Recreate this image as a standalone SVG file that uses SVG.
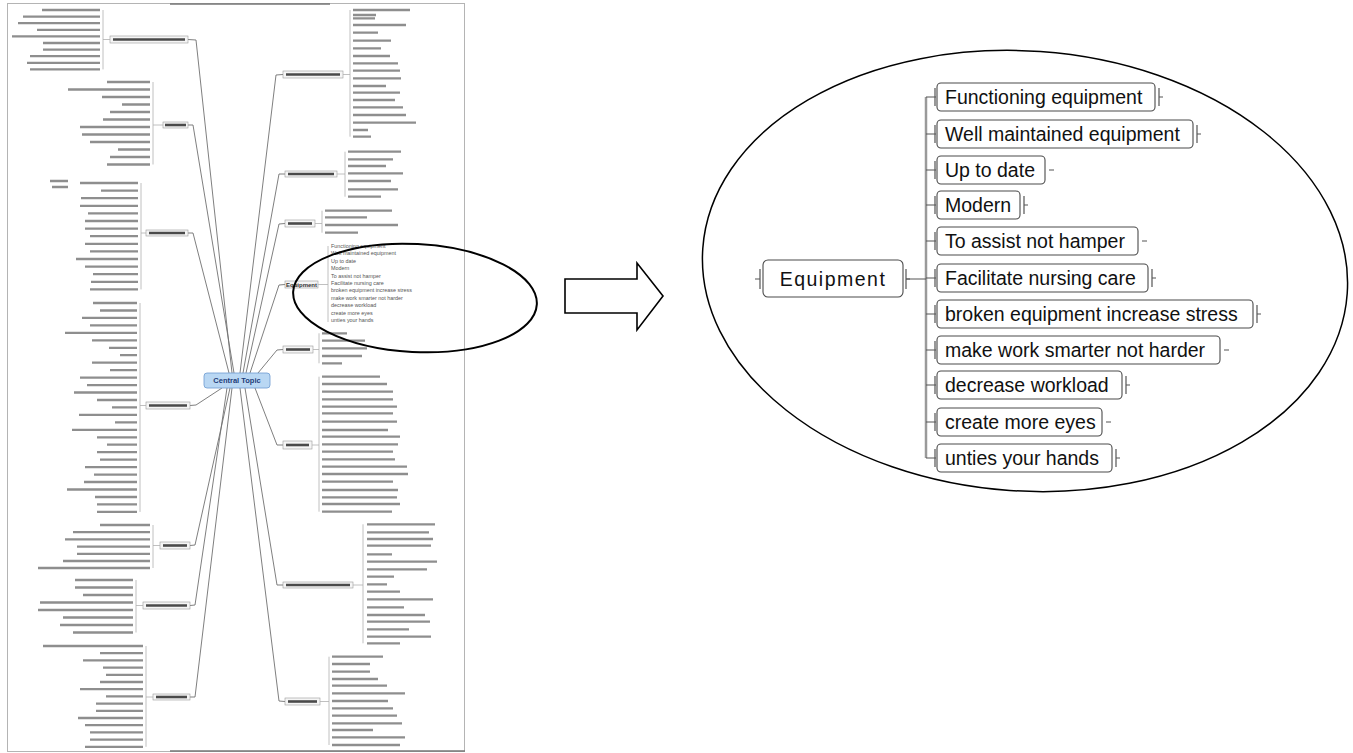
<svg xmlns="http://www.w3.org/2000/svg" width="1353" height="753" viewBox="0 0 1353 753">
<style>
.leaf{stroke:#8e8e8e;stroke-width:2.3;fill:none}
.brk{stroke:#b0b0b0;stroke-width:0.8;fill:none}
.con{stroke:#707070;stroke-width:0.9;fill:none}
.lbl{fill:#f5f5f5;stroke:#9a9a9a;stroke-width:0.6}
.lbar{stroke:#4a4a4a;stroke-width:2.6}
.tt{font-family:"Liberation Sans",Arial,sans-serif;font-size:5.4px;fill:#555}
.box{fill:#fff;stroke:#4a4a4a;stroke-width:1.1}
.t{font-family:"Liberation Sans",Arial,sans-serif;font-size:19.5px;fill:#111}
.mk{stroke:#555;stroke-width:1.2;fill:none}
.trunk{stroke:#9a9a9a;stroke-width:2.5;fill:none}
.ring{fill:none;stroke:#000}
</style>
<rect width="1353" height="753" fill="#fff"/>

<!-- thumbnail frame -->
<g id="thumbnail-frame">
<rect x="7.5" y="3.5" width="457" height="748" fill="none" stroke="#b4b4b4" stroke-width="1"/>
<path d="M170,4H330M170,751H465" stroke="#777" stroke-width="1.4"/>
</g>

<!-- thumbnail connectors -->
<g id="thumb-connectors" class="con">
<path d="M188,39.5L196,40L232,373"/>
<path d="M188,125L193,125L234,373"/>
<path d="M188,233L193,233L229,373"/>
<path d="M190,405.5L196,405L222,388"/>
<path d="M190,545.5L195,545L230,388"/>
<path d="M190,605.5L195,605L227,388"/>
<path d="M190,697L195,697L232,388"/>
<path d="M283,74.5L276,75L240,373"/>
<path d="M285,174L279,174L243,373"/>
<path d="M285,223.5L279,224L246,373"/>
<path d="M285,284.5L279,285L250,373"/>
<path d="M283,349.5L277,350L258,373"/>
<path d="M283,445L277,445L255,388"/>
<path d="M283,585L277,585L245,388"/>
<path d="M285,701.5L279,701L240,388"/>
</g>

<g id="thumb-central">
<rect x="204" y="373" width="66" height="15" rx="3" fill="#b9d7f3" stroke="#6c9bd0" stroke-width="0.8"/>
<text x="237" y="383" text-anchor="middle" font-family="Liberation Sans,Arial,sans-serif" font-size="7.5" font-weight="bold" fill="#1d3b78">Central Topic</text>
</g>

<g id="thumb-L1">
<rect class="lbl" x="110" y="36" width="78" height="7"/><path class="lbar" d="M113,39.5H185"/>
<path class="brk" d="M103,10V69.4M103,39.5H110"/>
<path class="leaf" d="M100,10h-58M100,16.6h-77M100,23.2h-82M100,29.8h-63M100,36.4h-88M100,43h-57M100,49.6h-57M100,56.2h-70M100,62.8h-73M100,69.4h-70"/>
</g>
<g id="thumb-L2">
<rect class="lbl" x="163" y="122" width="25" height="6"/><path class="lbar" d="M165,125H186"/>
<path class="brk" d="M153,82V164.5M153,125H163"/>
<path class="leaf" d="M150,82h-43M150,89.5h-82M150,97h-48M150,104.5h-28M150,112h-40M150,119.5h-47M150,127h-70M150,134.5h-68M150,142h-60M150,149.5h-32M150,157h-40M150,164.5h-43"/>
</g>
<g id="thumb-L3">
<rect class="lbl" x="146" y="230" width="42" height="6"/><path class="lbar" d="M149,233H185"/>
<path class="brk" d="M141,183V289.4M141,233H146"/>
<path class="leaf" d="M138,183h-58M138,190.6h-37M138,198.2h-57M138,205.8h-58M138,213.4h-50M138,221h-53M138,228.6h-53M138,236.2h-48M138,243.8h-53M138,251.4h-48M138,259h-62M138,266.6h-53M138,274.2h-45M138,281.8h-47M138,289.4h-48"/>
<path class="leaf" stroke-width="1.6" d="M50,181h18M52,187h16"/>
</g>
<g id="thumb-L4">
<rect class="lbl" x="146" y="402" width="44" height="7"/><path class="lbar" d="M149,405.5H187"/>
<path class="brk" d="M140,303V511.9M140,405.5H146"/>
<path class="leaf" d="M137,303h-44M137,310.5h-37M137,317.9h-55M137,325.4h-47M137,332.8h-72M137,340.3h-45M137,347.8h-28M137,355.2h-17M137,362.7h-45M137,370.1h-27M137,377.6h-57M137,385.1h-50M137,392.5h-63M137,400h-40M137,407.4h-25M137,414.9h-58M137,422.4h-22M137,429.8h-65M137,437.3h-40M137,444.7h-30M137,452.2h-40M137,459.7h-37M137,467.1h-52M137,474.6h-43M137,482h-53M137,489.5h-70M137,497h-42M137,504.4h-40M137,511.9h-40"/>
</g>
<g id="thumb-L5">
<rect class="lbl" x="160" y="542" width="30" height="7"/><path class="lbar" d="M163,545.5H187"/>
<path class="brk" d="M153,525V568M153,545.5H160"/>
<path class="leaf" d="M150,525h-50M150,532.2h-77M150,539.4h-85M150,546.6h-73M150,553.8h-73M150,561h-87M150,568h-112"/>
</g>
<g id="thumb-L6">
<rect class="lbl" x="143" y="602" width="47" height="7"/><path class="lbar" d="M146,605.5H187"/>
<path class="brk" d="M136,580V632.5M136,605.5H143"/>
<path class="leaf" d="M133,580h-58M133,587.5h-58M133,595h-50M133,602.5h-93M133,610h-95M133,617.5h-70M133,625h-73M133,632.5h-60"/>
</g>
<g id="thumb-L7">
<rect class="lbl" x="153" y="694" width="37" height="6"/><path class="lbar" d="M156,697H187"/>
<path class="brk" d="M146,646V746.8M146,697H153"/>
<path class="leaf" d="M143,646h-100M143,653.2h-43M143,660.4h-60M143,667.6h-40M143,674.8h-37M143,682h-43M143,689.2h-63M143,696.4h-37M143,703.6h-47M143,710.8h-47M143,718h-65M143,725.2h-58M143,732.4h-53M143,739.6h-53M143,746.8h-58"/>
</g>

<g id="thumb-R1">
<rect class="lbl" x="283" y="71" width="60" height="7"/><path class="lbar" d="M286,74.5H340"/>
<path class="brk" d="M350,10V136.7M343,74.5H350"/>
<path class="leaf" d="M353,10h57M353,15h23M353,18.3h22M353,25h53M353,32.7h25M353,40.7h38M353,48.3h28M353,56h37M353,63.3h45M353,70.7h47M353,78.3h48M353,86h33M353,92.7h47M353,100h42M353,107.3h50M353,115h53M353,122.7h63M353,130h15M353,136.7h18"/>
</g>
<g id="thumb-R2">
<rect class="lbl" x="285" y="171" width="52" height="6"/><path class="lbar" d="M288,174H334"/>
<path class="brk" d="M345,151.7V196.7M337,174H345"/>
<path class="leaf" d="M348,151.7h53M348,159.3h45M348,166h38M348,173.3h55M348,181h43M348,189.3h50M348,196.7h33"/>
</g>
<g id="thumb-R3">
<rect class="lbl" x="285" y="220" width="30" height="7"/><path class="lbar" d="M288,223.5H312"/>
<path class="brk" d="M322,210.7V232.7M315,223.5H322"/>
<path class="leaf" d="M325,210.7h67M325,217.3h42M325,225h73M325,232.7h33"/>
</g>
<g id="thumb-R4">
<rect class="lbl" x="285" y="281" width="33" height="7"/>
<text x="301.5" y="286.8" text-anchor="middle" font-family="Liberation Sans,Arial,sans-serif" font-size="6" font-weight="bold" fill="#333">Equipment</text>
<path class="brk" d="M328,246V322M318,284.5H328"/>
<g class="tt">
<text x="331" y="248">Functioning equipment</text>
<text x="331" y="255.4">Well maintained equipment</text>
<text x="331" y="262.8">Up to date</text>
<text x="331" y="270.2">Modern</text>
<text x="331" y="277.6">To assist not hamper</text>
<text x="331" y="285">Facilitate nursing care</text>
<text x="331" y="292.4">broken equipment increase stress</text>
<text x="331" y="299.8">make work smarter not harder</text>
<text x="331" y="307.2">decrease workload</text>
<text x="331" y="314.6">create more eyes</text>
<text x="331" y="322">unties your hands</text>
</g>
</g>
<g id="thumb-R5">
<rect class="lbl" x="283" y="346" width="30" height="7"/><path class="lbar" d="M286,349.5H310"/>
<path class="brk" d="M319,333.3V363.3M313,349.5H319"/>
<path class="leaf" d="M322,333.3h25M322,340.7h43M322,348.3h45M322,356h40M322,363.3h20"/>
</g>
<g id="thumb-R6">
<rect class="lbl" x="283" y="441" width="29" height="8"/><path class="lbar" d="M286,445H309"/>
<path class="brk" d="M319,376.7V511.7M312,445H319"/>
<path class="leaf" d="M322,376.7h58M322,384h65M322,391.7h71M322,399.3h71M322,406.7h75M322,413.3h71M322,421.7h75M322,430h66M322,436.7h78M322,444.3h76M322,451.7h71M322,459.3h73M322,466.7h85M322,474h86M322,481.7h71M322,490h76M322,497.3h75M322,504h78M322,511.7h70"/>
</g>
<g id="thumb-R7">
<rect class="lbl" x="283" y="582" width="70" height="6"/><path class="lbar" d="M286,585H350"/>
<path class="brk" d="M363,524.3V643.3M353,585H363"/>
<path class="leaf" d="M367,524.3h68M367,532.3h62M367,539h66M367,545.7h64M367,554.3h25M367,561.7h70M367,569.3h60M367,576.7h27M367,584.3h20M367,591.7h33M367,599.3h66M367,607.3h37M367,615h58M367,621.7h63M367,629.3h42M367,636.7h64M367,643.3h33"/>
</g>
<g id="thumb-R8">
<rect class="lbl" x="285" y="698" width="35" height="7"/><path class="lbar" d="M288,701.5H317"/>
<path class="brk" d="M329,656.7V745M320,701.5H329"/>
<path class="leaf" d="M332,656.7h51M332,664h38M332,671.7h38M332,679h46M332,685.7h55M332,693.3h73M332,701h56M332,708.3h61M332,715.7h65M332,723.3h70M332,730h41M332,737.3h73M332,745h68"/>
</g>

<g id="thumb-highlight">
<ellipse class="ring" cx="415" cy="298" rx="122" ry="54" transform="rotate(3 415 298)" stroke-width="2"/>
</g>

<g id="arrow">
<polygon points="565,279 637,279 637,263 663,296 637,330 637,313 565,313" fill="#fff" stroke="#000" stroke-width="1.6" stroke-linejoin="miter"/>
</g>

<g id="zoom-ellipse">
<ellipse class="ring" cx="1025" cy="271" rx="323" ry="220" transform="rotate(4 1025 271)" stroke-width="1.5"/>
</g>

<!-- main connectors -->
<g id="connectors">
<path class="trunk" d="M926,97V458"/>
<path class="mk" d="M906,279H926M926,97H936M926,134H936M926,170H936M926,205H936M926,241H936M926,278H936M926,314H936M926,350H936M926,385H936M926,422H936M926,458H936"/>
</g>

<g id="equipment">
<rect class="box" x="763" y="260" width="140" height="37" rx="5"/>
<path class="mk" d="M760,269V289M760,279H755M906,269V289M906,279H910"/>
<text class="t" x="833" y="286" text-anchor="middle" font-size="20" letter-spacing="1.5">Equipment</text>
</g>

<g id="n1"><rect class="box" x="937" y="83" width="218" height="28" rx="4"/><path class="mk" d="M935,88V106M1159,88V106M1159,97H1163"/><text class="t" x="945" y="104">Functioning equipment</text></g>
<g id="n2"><rect class="box" x="937" y="120" width="256" height="28" rx="4"/><path class="mk" d="M935,125V143M1197,125V143M1197,134H1201"/><text class="t" x="945" y="141">Well maintained equipment</text></g>
<g id="n3"><rect class="box" x="937" y="156" width="108" height="28" rx="4"/><path class="mk" d="M935,161V179M1049,170H1054"/><text class="t" x="945" y="177">Up to date</text></g>
<g id="n4"><rect class="box" x="937" y="191" width="83" height="28" rx="4"/><path class="mk" d="M935,196V214M1024,196V214M1024,205H1028"/><text class="t" x="945" y="212">Modern</text></g>
<g id="n5"><rect class="box" x="937" y="227" width="201" height="28" rx="4"/><path class="mk" d="M935,232V250M1142,241H1147"/><text class="t" x="945" y="248">To assist not hamper</text></g>
<g id="n6"><rect class="box" x="937" y="264" width="211" height="28" rx="4"/><path class="mk" d="M935,269V287M1152,269V287M1152,278H1156"/><text class="t" x="945" y="285">Facilitate nursing care</text></g>
<g id="n7"><rect class="box" x="937" y="300" width="316" height="28" rx="4"/><path class="mk" d="M935,305V323M1257,305V323M1257,314H1261"/><text class="t" x="945" y="321">broken equipment increase stress</text></g>
<g id="n8"><rect class="box" x="937" y="336" width="283" height="28" rx="4"/><path class="mk" d="M935,341V359M1224,350H1229"/><text class="t" x="945" y="357">make work smarter not harder</text></g>
<g id="n9"><rect class="box" x="937" y="371" width="185" height="28" rx="4"/><path class="mk" d="M935,376V394M1126,376V394M1126,385H1130"/><text class="t" x="945" y="392">decrease workload</text></g>
<g id="n10"><rect class="box" x="937" y="408" width="165" height="28" rx="4"/><path class="mk" d="M935,413V431M1106,422H1111"/><text class="t" x="945" y="429">create more eyes</text></g>
<g id="n11"><rect class="box" x="937" y="444" width="175" height="28" rx="4"/><path class="mk" d="M935,449V467M1116,449V467M1116,458H1120"/><text class="t" x="945" y="465">unties your hands</text></g>
</svg>
